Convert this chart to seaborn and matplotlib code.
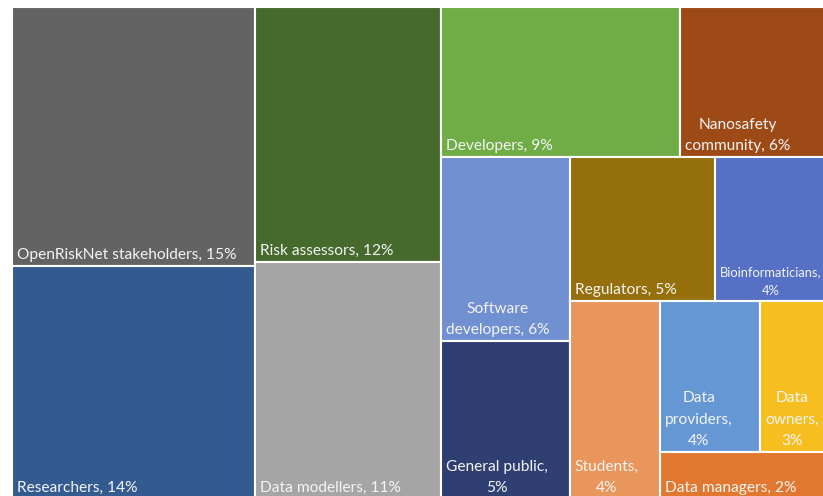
import matplotlib
matplotlib.use("Agg")
import matplotlib.pyplot as plt
import seaborn as sns

# stakeholder groups and their share (%), in treemap order
groups = [
    "OpenRiskNet stakeholders", "Researchers", "Risk assessors", "Data modellers",
    "Developers", "Nanosafety\ncommunity", "Software\ndevelopers", "General public",
    "Regulators", "Bioinformaticians", "Students", "Data\nproviders", "Data\nowners",
    "Data managers",
]
shares = [15.47, 13.92, 11.66, 10.83, 8.81, 5.86, 5.83, 5.01, 5.13, 4.39, 4.38, 3.71, 2.93, 2.07]
# percent goes on its own line for the narrow cells
pct_on_new_line = [False, False, False, False, False, False, False, True,
                   False, True, True, True, True, False]
colors = [
    "#636363", "#335b8f", "#46692c", "#a5a5a5", "#70ad47", "#9e4a16", "#7190d1",
    "#2f3f72", "#946f0a", "#5570c4", "#e8965b", "#6497d3", "#f6bf1f", "#e2782f",
]
# how many cells go in each strip of the squarified layout
strips = [2, 2, 2, 2, 2, 1, 2, 1]

W, H = 827, 492


def treemap(values, strips, x, y, w, h):
    # lay strips along the shorter side of what is left
    scale = w * h / sum(values)
    rects = []
    i = 0
    for n in strips:
        group = values[i:i + n]
        area = sum(group) * scale
        if w >= h:
            cw = area / h
            yy = y
            for v in group:
                ch = v * scale / cw
                rects.append((x, yy, cw, ch))
                yy += ch
            x += cw
            w -= cw
        else:
            rh = area / w
            xx = x
            for v in group:
                rw = v * scale / rh
                rects.append((xx, y, rw, rh))
                xx += rw
            y += rh
            h -= rh
        i += n
    return rects


sns.set_theme(style="white")
plt.rcParams["font.family"] = ["Lato", "DejaVu Sans"]

fig = plt.figure(figsize=(8.23, 4.96), dpi=100)
# the chart runs a little past the right and bottom edges of the picture
ax = fig.add_axes([12 / 823, (496 - 499) / 496, W / 823, H / 496])
ax.set_xlim(0, W)
ax.set_ylim(H, 0)
ax.axis("off")

rects = treemap(shares, strips, 0, 0, W, H)
texts = []
for (x, y, w, h), name, s, nl, col in zip(rects, groups, shares, pct_on_new_line, colors):
    ax.bar(x, h, width=w, bottom=y, align="edge", color=col,
           edgecolor="white", linewidth=1.5)
    pct = round(s)
    label = f"{name},\n{pct}%" if nl else f"{name}, {pct}%"
    t = ax.annotate(label, xy=(x, y + h), xytext=(3.5, 3), textcoords="offset points",
                    ha="left", va="bottom", multialignment="center",
                    fontsize=11.2, color="#f4f4f4", linespacing=1.65,
                    annotation_clip=False)
    texts.append((t, x + w))

# shrink a label that would run out of the visible picture
fig.canvas.draw()
renderer = fig.canvas.get_renderer()
fig_w = fig.bbox.width
for t, right in texts:
    bb = t.get_window_extent(renderer)
    right_px = min(ax.transData.transform((right, 0))[0], fig_w) - 2
    room = right_px - bb.x0
    if bb.width > room:
        t.set_fontsize(t.get_fontsize() * room / bb.width)

fig.savefig("out.png", dpi=100)
